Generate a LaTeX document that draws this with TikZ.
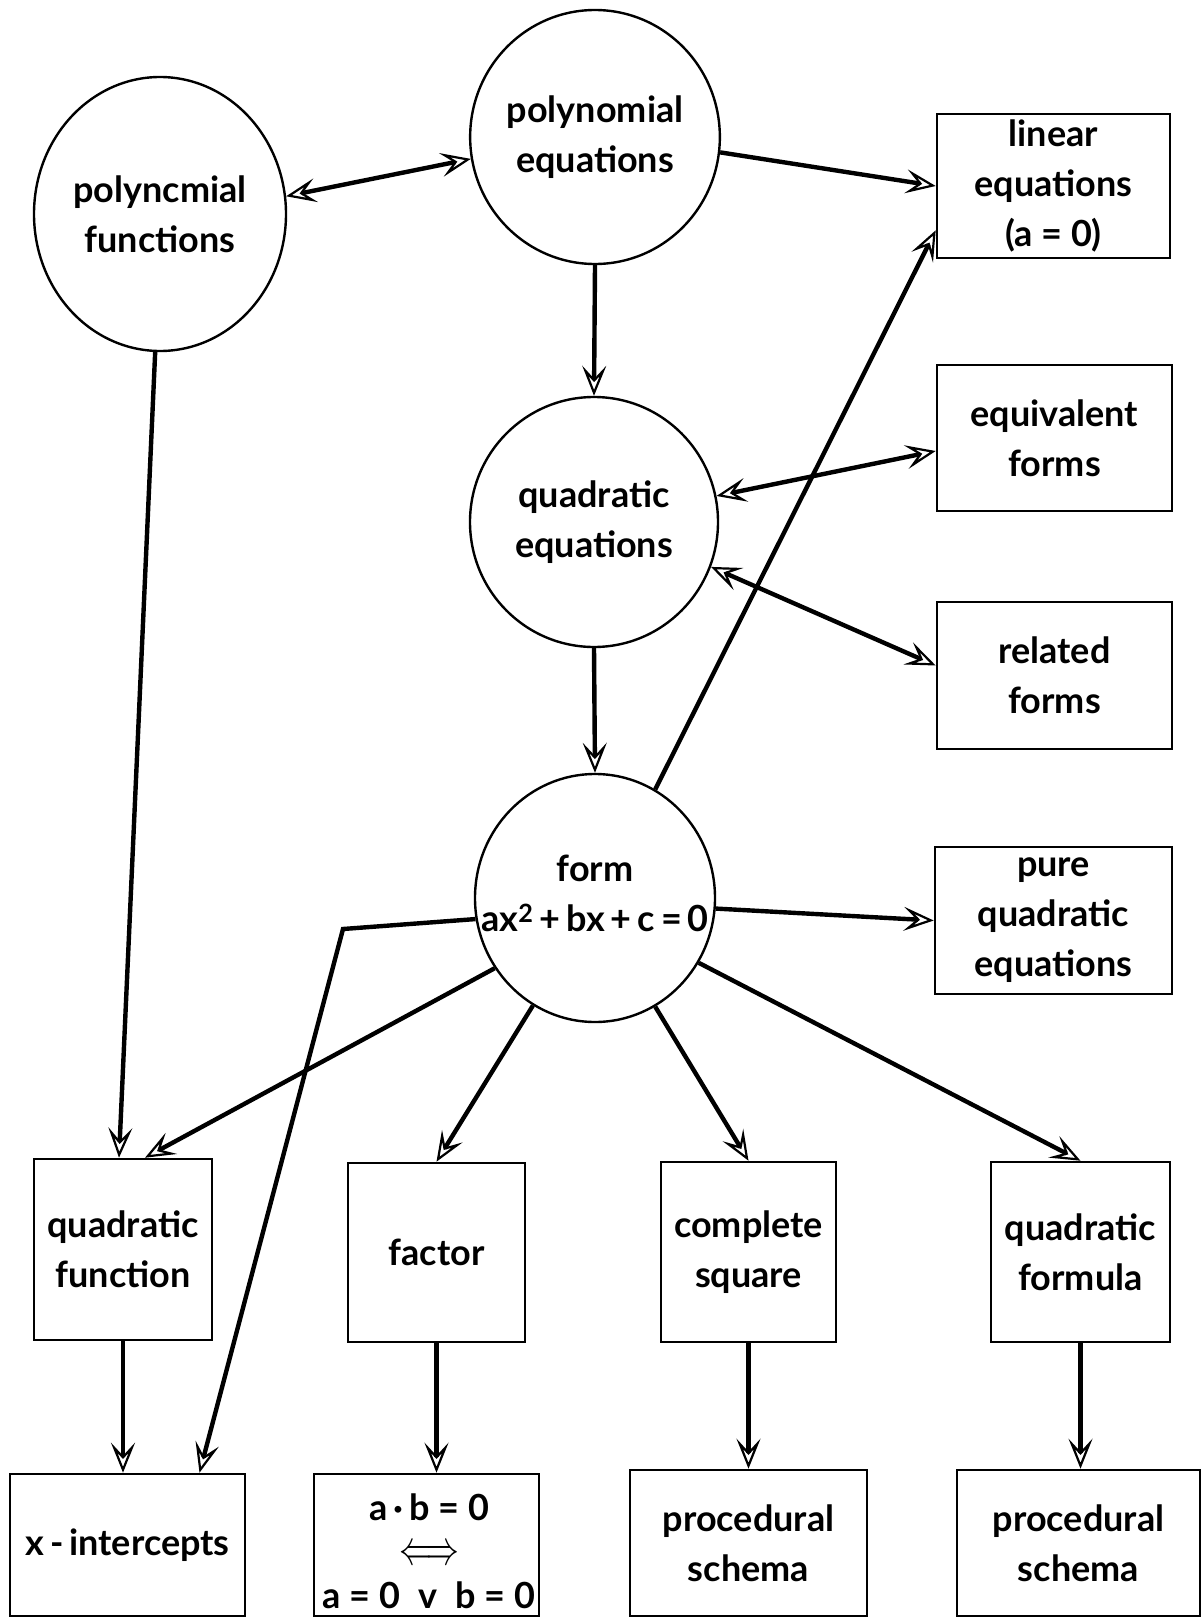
\documentclass[tikz,border=0pt]{standalone}
\usepackage{fontspec}
\setmainfont{Lato}
\usetikzlibrary{shapes.geometric,arrows.meta,calc}
\begin{document}
\begin{tikzpicture}[x=1pt,y=-1pt,
  every node/.style={font=\fontsize{36}{50}\selectfont\bfseries, align=center, inner sep=0pt},
  circ/.style={ellipse, draw, line width=2.4pt},
  boxn/.style={rectangle, draw, line width=2.6pt},
  con/.style={line width=4.4pt},
  tip/.tip={Stealth[length=30pt,width=24pt,inset=13pt,open,line width=2.2pt]},
  arr/.style={con, -tip},
  darr/.style={con, tip-tip}
]
\useasboundingbox (0,0) rectangle (1202,1619);
% circles
\node[circ, minimum width=252pt, minimum height=274pt] (pf) at (160,214) {polyncmial\\functions};
\node[circ, minimum width=246pt, minimum height=254pt] (pe) at (595,137) {polynomial\\equations};
\node[circ, minimum width=248pt, minimum height=250pt] (qe) at (594,522) {quadratic\\equations};
\node[circ, minimum width=240pt, minimum height=248pt] (form) at (595,898) {};
\node (formtxt) at (595,893) {form\\ax\textsuperscript{2}\,+\,bx\,+\,c\,=\,0};
% right boxes
\node[boxn, minimum width=233pt, minimum height=144pt] (lin) at (1053.5,186) {linear\\equations\\(a = 0)};
\node[boxn, minimum width=235pt, minimum height=146pt] (eqf) at (1054.5,438) {equivalent\\forms};
\node[boxn, minimum width=235pt, minimum height=147pt] (rel) at (1054.5,675.5) {related\\forms};
\node[boxn, minimum width=237pt, minimum height=147pt] (pure) at (1053.5,920.5) {pure\\quadratic\\equations};
% middle row
\node[boxn, minimum width=178pt, minimum height=181pt] (qf) at (123,1249.5) {quadratic\\function};
\node[boxn, minimum width=177pt, minimum height=179pt] (factor) at (436.5,1252.5) {factor};
\node[boxn, minimum width=175pt, minimum height=180pt] (cs) at (748.5,1252) {complete\\square};
\node[boxn, minimum width=179pt, minimum height=180pt] (qform) at (1080.5,1252) {quadratic\\formula};
% bottom row
\node[boxn, minimum width=235pt, minimum height=142pt] (xi) at (127.5,1545) {x\,-\,intercepts};
\node[boxn, minimum width=225pt, minimum height=142pt] (ab) at (426.5,1545) {};
\node[font=\fontsize{36}{44}\selectfont\bfseries] (abt) at (429,1551) {a\,·\,b = 0\\\resizebox{60pt}{18pt}{$\Longleftrightarrow$}\\a = 0\enspace v\enspace b = 0};
\node[boxn, minimum width=237pt, minimum height=146pt] (ps1) at (748.5,1543) {procedural\\schema};
\node[boxn, minimum width=243pt, minimum height=146pt] (ps2) at (1078.5,1543) {procedural\\schema};
\coordinate (bend) at (343,929);
% connectors
\draw[darr] (pf.8) -- (pe.190);
\draw[arr] (pe.-7) -- (lin.west);
\draw[arr] (pe.south) -- (qe.north);
\draw[darr] (qe.12) -- ($(eqf.west)+(0,13)$);
\draw[darr] (qe.-21) -- ($(rel.west)+(0,-10)$);
\draw[arr] (qe.south) -- (form.north);
\draw[arr] (form.61) -- ($(lin.south west)+(0,-29)$);
\draw[arr] (form.-5) -- (pure.west);
\draw[arr] (form.190) -- (bend) -- ($(xi.north)+(72,0)$);
\draw[arr] (form.215) -- ($(qf.north)+(22,0)$);
\draw[arr] (form.240) -- (factor.north);
\draw[arr] (form.-61) -- (cs.north);
\draw[arr] (form.-32) -- (qform.north);
\draw[arr] (pf.268) -- ($(qf.north)+(-4,0)$);
\draw[arr] (qf.south) -- (qf.south |- xi.north);
\draw[arr] (factor.south) -- (factor.south |- ab.north);
\draw[arr] (cs.south) -- (cs.south |- ps1.north);
\draw[arr] (qform.south) -- (qform.south |- ps2.north);
\end{tikzpicture}
\end{document}
